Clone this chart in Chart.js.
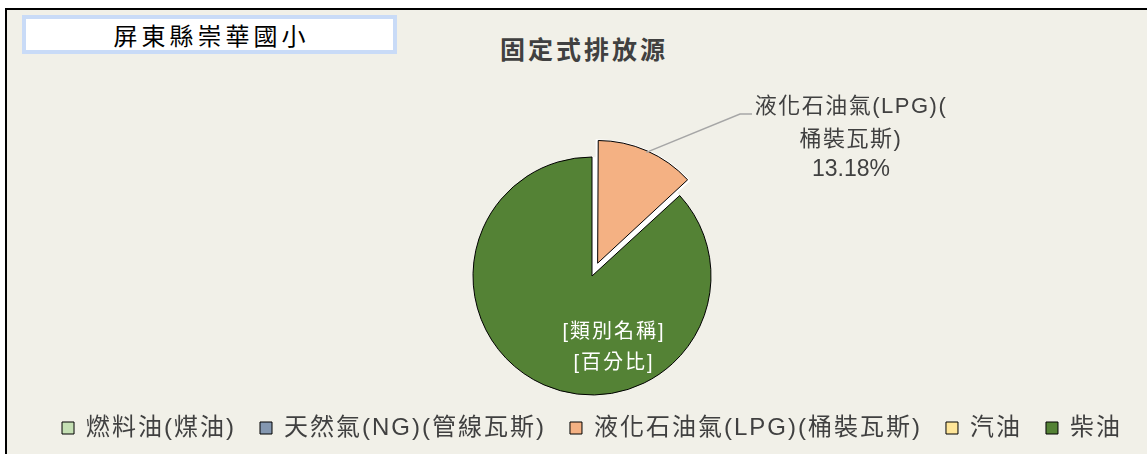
<!DOCTYPE html>
<html>
<head>
<meta charset="utf-8">
<script src="https://cdn.jsdelivr.net/npm/chart.js@4.4.1/dist/chart.umd.min.js"></script>
<style>
html, body { margin: 0; padding: 0; background: #fff; }
#wrap { position: relative; width: 1147px; height: 454px; overflow: hidden; background: #fff; }
#frame { position: absolute; left: 5px; top: 8px; width: 1160px; height: 460px;
  border-left: 2px solid #000; border-top: 2px solid #000; background: #f1f0e8; }
#school { position: absolute; left: 22px; top: 15px; width: 363px; height: 31px;
  border: 4px solid #c9dbf7; background: #fff; color: #000;
  font: 24px "Noto Sans CJK TC", sans-serif; letter-spacing: 4px; padding-left: 4px; box-sizing: content-box;
  line-height: 31px; text-align: center; }
#title { position: absolute; left: 431px; top: 33px; width: 300px; padding-left: 3px;
  font: bold 25px "Noto Sans CJK TC", sans-serif; letter-spacing: 3px; color: #404040;
  line-height: 30px; text-align: center; }
canvas { position: absolute; left: 0; top: 0; }
</style>
</head>
<body>
<div id="wrap">
  <div id="frame"></div>
  <div id="school">屏東縣崇華國小</div>
  <div id="title">固定式排放源</div>
  <canvas id="piechart" width="1147" height="454"></canvas>
</div>
<script>
// data
const categories = ['燃料油(煤油)', '天然氣(NG)(管線瓦斯)', '液化石油氣(LPG)(桶裝瓦斯)', '汽油', '柴油'];
const shares = [0, 0, 13.18, 0, 86.82];

const sliceColors = ['#c5e0b4', '#8497b0', '#f4b183', '#ffe699', '#548235'];
const explode = [0, 0, 56, 0, 0];

const FONT = '"Liberation Sans", "Noto Sans CJK TC", sans-serif';

const pieLabels = {
    id: 'pieLabels',
    afterInit(chart) { chart.ctx.letterSpacing = '2px'; },
    beforeUpdate(chart) { chart.ctx.letterSpacing = '2px'; },
    beforeDatasetsDraw(chart) {
        // white gap left behind by the pulled-out slice
        const ctx = chart.ctx;
        chart.getDatasetMeta(0).data.forEach(arc => {
            const off = arc.options.offset || 0;
            if (!off || arc.circumference === 0) return;
            const mid = (arc.startAngle + arc.endAngle) / 2;
            const t = off / 4;
            ctx.save();
            ctx.fillStyle = '#fff';
            ctx.strokeStyle = '#fff';
            ctx.lineWidth = 4;
            ctx.beginPath();
            ctx.moveTo(arc.x, arc.y);
            ctx.arc(arc.x, arc.y, arc.outerRadius, arc.startAngle, arc.endAngle);
            ctx.closePath();
            ctx.fill();
            ctx.translate(Math.cos(mid) * t, Math.sin(mid) * t);
            ctx.beginPath();
            ctx.moveTo(arc.x, arc.y);
            ctx.arc(arc.x, arc.y, arc.outerRadius + 3, arc.startAngle, arc.endAngle);
            ctx.closePath();
            ctx.fill();
            ctx.stroke();
            ctx.restore();
        });
    },
    afterDatasetsDraw(chart) {
        const ctx = chart.ctx;
        chart.getDatasetMeta(0).data.forEach((arc, i) => {
            const v = shares[i];
            if (!v) return;
            const cx = arc.x, cy = arc.y;
            ctx.save();
            ctx.textAlign = 'center';
            ctx.textBaseline = 'middle';
            if (arc.options.offset) {
                const mid = (arc.startAngle + arc.endAngle) / 2;
                const r = arc.options.offset / 4 + arc.outerRadius + 2;
                ctx.strokeStyle = '#a6a6a6';
                ctx.lineWidth = 1.5;
                ctx.beginPath();
                ctx.moveTo(cx + Math.cos(mid) * r, cy + Math.sin(mid) * r);
                ctx.lineTo(cx + 148, cy - 162);
                ctx.lineTo(cx + 160, cy - 162);
                ctx.stroke();
                const name = categories[i];
                const cut = name.indexOf('(', name.indexOf(')')) + 1;
                ctx.fillStyle = '#404040';
                ctx.font = '22px ' + FONT;
                ctx.letterSpacing = '1.5px';
                ctx.fillText(name.slice(0, cut), cx + 259, cy - 169);
                ctx.fillText(name.slice(cut), cx + 259, cy - 136);
                ctx.font = '23px ' + FONT;
                ctx.letterSpacing = '0px';
                ctx.fillText(v.toFixed(2) + '%', cx + 259, cy - 106);
            } else {
                ctx.fillStyle = '#fff';
                ctx.font = '20px ' + FONT;
                ctx.letterSpacing = '2px';
                ctx.fillText('[類別名稱]', cx + 22, cy + 56);
                ctx.fillText('[百分比]', cx + 22, cy + 87);
            }
            ctx.restore();
        });
    }
};

const ctx1 = document.getElementById('piechart').getContext('2d');
const piechart = new Chart(ctx1, {
    type: 'pie',
    data: {
        labels: categories,
        datasets: [{
            label: '固定式排放源',
            data: shares,
            backgroundColor: sliceColors,
            borderColor: '#000',
            borderWidth: 1,
            offset: explode,
            radius: 119,
            clip: false
        }]
    },
    options: {
        responsive: false,
        animation: false,
        events: [],
        layout: { padding: { left: 37, right: 0, top: 160, bottom: 4 } },
        plugins: {
            tooltip: { enabled: false },
            title: { display: false },
            legend: {
                position: 'bottom',
                labels: {
                    color: '#404040',
                    boxWidth: 12,
                    boxHeight: 12,
                    padding: 24,
                    font: { size: 24, family: FONT }
                }
            }
        }
    },
    plugins: [pieLabels]
});
</script>
</body>
</html>
